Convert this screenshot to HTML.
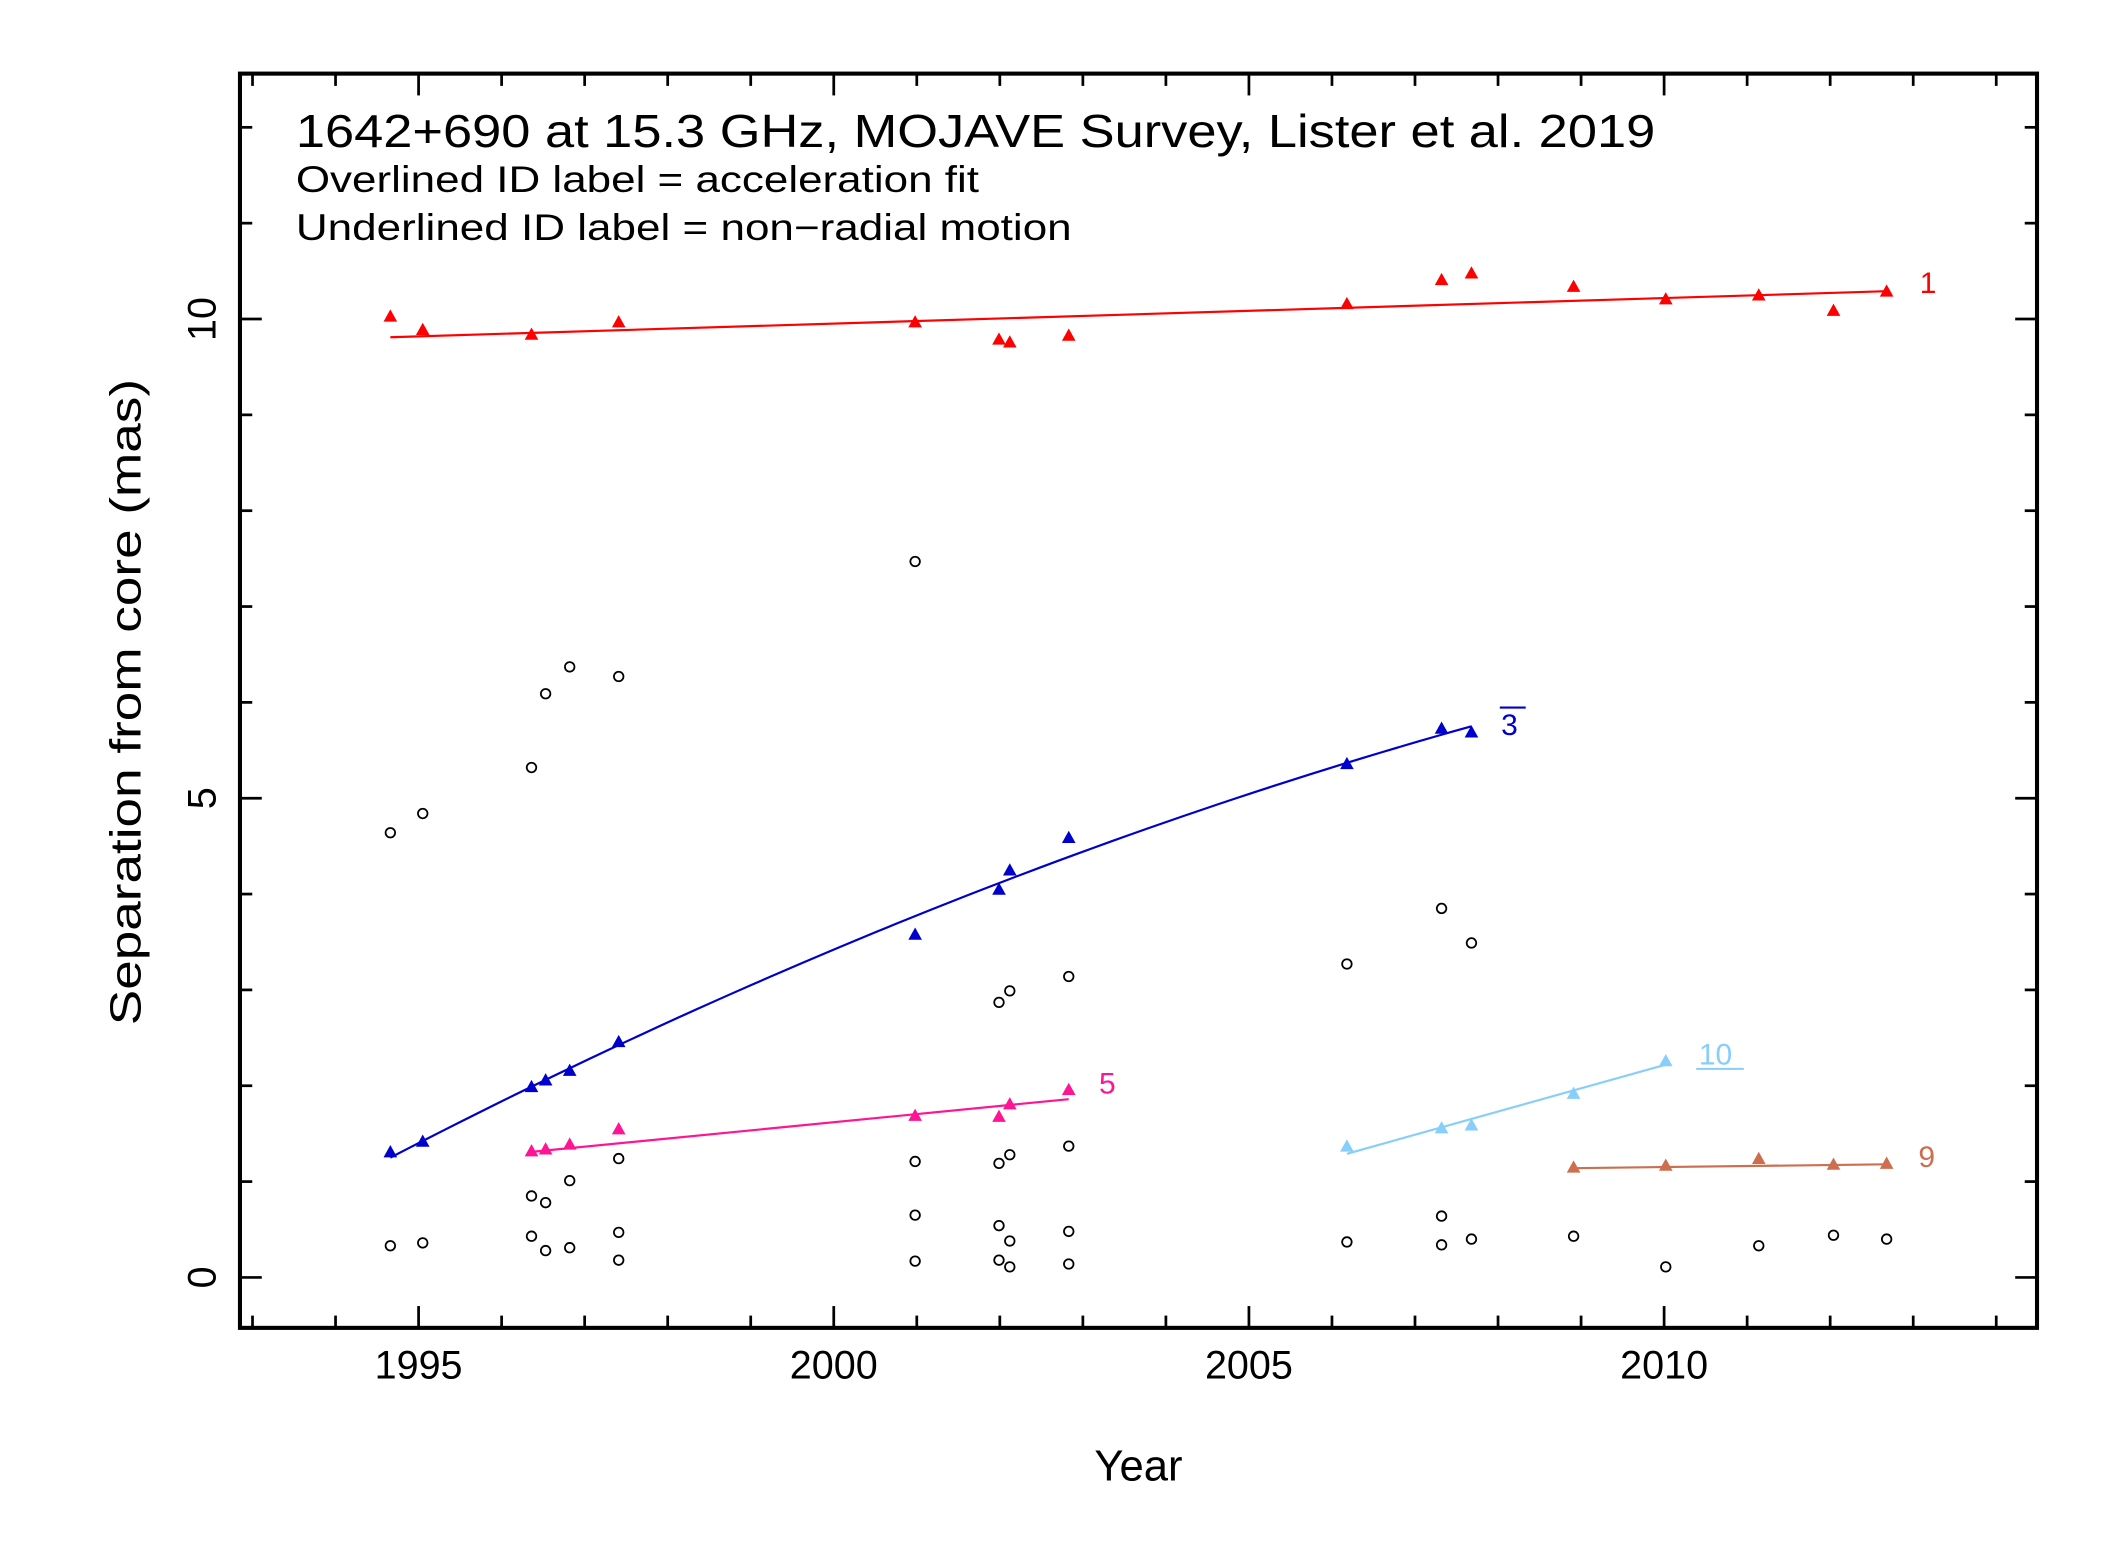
<!DOCTYPE html>
<html><head><meta charset="utf-8">
<style>
html,body{margin:0;padding:0;background:#fff;}
svg{display:block;}
text{font-family:"Liberation Sans","DejaVu Sans",sans-serif;}
</style></head>
<body>
<svg id="chart" xmlns="http://www.w3.org/2000/svg" width="2127" height="1546" viewBox="0 0 1560 1134" preserveAspectRatio="none">
<rect x="0" y="0" width="1560" height="1134" fill="#fff"/>
<g id="ticks"></g>
<g id="marks"></g>
<rect x="176" y="54" width="1318" height="920" fill="none" stroke="#000" stroke-width="3"/>
<text x="217" y="108" font-size="34" textLength="997" lengthAdjust="spacingAndGlyphs">1642+690 at 15.3 GHz, MOJAVE Survey, Lister et al. 2019</text>
<text x="217" y="141" font-size="27" textLength="501" lengthAdjust="spacingAndGlyphs">Overlined ID label = acceleration fit</text>
<text x="217" y="176" font-size="27" textLength="569" lengthAdjust="spacingAndGlyphs">Underlined ID label = non−radial motion</text>
<text x="835" y="1086" font-size="32" text-anchor="middle">Year</text>
<text transform="translate(103,515) rotate(-90)" font-size="32" text-anchor="middle" textLength="474" lengthAdjust="spacingAndGlyphs">Separation from core (mas)</text>
</svg>
<script>
const xTickYears = [1995, 2000, 2005, 2010];
const yTickVals = [0, 5, 10];
const yrs = [1994.66,1995.05,1996.36,1996.53,1996.82,1997.41,2000.98,2001.99,2002.12,2002.83,2006.18,2007.32,2007.68,2008.91,2010.02,2011.14,2012.04,2012.68];
// component 1
const c1Years = [1994.66,1995.05,1996.36,1997.41,2000.98,2001.99,2002.12,2002.83,2006.18,2007.32,2007.68,2008.91,2010.02,2011.14,2012.04,2012.68];
const c1Vals = [10.03,9.89,9.84,9.97,9.97,9.79,9.76,9.83,10.16,10.41,10.48,10.34,10.21,10.25,10.09,10.29];
const c1Fit = [9.81, 10.29];
// component 3 (acceleration)
const c3Years = [1994.66,1995.05,1996.36,1996.53,1996.82,1997.41,2000.98,2001.99,2002.12,2002.83,2006.18,2007.32,2007.68];
const c3Vals = [1.31,1.42,1.99,2.06,2.16,2.46,3.58,4.05,4.25,4.59,5.36,5.73,5.69];
const c3Coef = [1.25, 0.4488, -0.00792];
// component 5
const c5Years = [1996.36,1996.53,1996.82,1997.41,2000.98,2001.99,2002.12,2002.83];
const c5Vals = [1.32,1.34,1.39,1.55,1.69,1.68,1.81,1.96];
const c5Fit = [1.31, 1.86];
// component 10
const c10Years = [2006.18,2007.32,2007.68,2008.91,2010.02];
const c10Vals = [1.37,1.56,1.59,1.92,2.26];
const c10Fit = [1.29, 2.22];
// component 9
const c9Years = [2008.91,2010.02,2011.14,2012.04,2012.68];
const c9Vals = [1.15,1.17,1.24,1.18,1.19];
const c9Fit = [1.14, 1.18];
// unidentified components
const oYears = [1994.66,1995.05,1994.66,1995.05,1996.36,1996.53,1996.82,1997.41,1996.36,1996.53,1996.82,1997.41,1997.41,1996.36,1996.53,1996.82,1997.41,2000.98,2000.98,2000.98,2000.98,2001.99,2002.12,2001.99,2002.12,2001.99,2002.12,2001.99,2002.12,2002.83,2002.83,2002.83,2002.83,2006.18,2006.18,2007.32,2007.32,2007.32,2007.68,2007.68,2008.91,2010.02,2011.14,2012.04,2012.68];
const oVals = [0.33,0.36,4.64,4.84,5.32,6.09,6.37,6.27,0.43,0.28,0.31,0.47,0.18,0.85,0.78,1.01,1.24,7.47,1.21,0.65,0.17,1.19,1.28,0.54,0.38,0.18,0.11,2.87,2.99,3.14,1.37,0.48,0.14,3.27,0.37,3.85,0.64,0.34,3.49,0.40,0.43,0.11,0.33,0.44,0.40];

const NS = "http://www.w3.org/2000/svg";
function X(y){ return 307 + (y - 1995) * 60.9; }
function Y(v){ return 937 - v * 70.3; }
function mk(tag, attrs, parent){ const e = document.createElementNS(NS, tag); for (const k in attrs) e.setAttribute(k, attrs[k]); parent.appendChild(e); return e; }
const tg = document.getElementById('ticks');
const mg = document.getElementById('marks');

for (let yr = 1993; yr <= 2014; yr++) {
  const major = yr % 5 === 0; const L = major ? 16 : 9; const x = X(yr);
  const t1 = mk('line', {x1:x, y1:974, x2:x, y2:974-L, stroke:'#000','stroke-width':2}, tg);
  
  
  const t2 = mk('line', {x1:x, y1:54, x2:x, y2:54+L, stroke:'#000','stroke-width':2}, tg);
  
  
}
xTickYears.forEach(yr => {
  const t = mk('text', {x:X(yr), y:1011, 'font-size':29, 'text-anchor':'middle'}, tg);
  t.textContent = yr;
  
  
});
for (let v = -0; v <= 12; v++) {
  const major = v % 5 === 0; const L = major ? 16 : 9; const y = Y(v);
  const t1 = mk('line', {x1:176, y1:y, x2:176+L, y2:y, stroke:'#000','stroke-width':2}, tg);
  
  
  const t2 = mk('line', {x1:1494, y1:y, x2:1494-L, y2:y, stroke:'#000','stroke-width':2}, tg);
  
  
}
yTickVals.forEach(v => {
  const t = mk('text', {transform:`translate(158,${Y(v)}) rotate(-90)`, 'font-size':29, 'text-anchor':'middle'}, tg);
  t.textContent = v;
  
  
});

function tri(x, y, color){
  return mk('polygon', {points:`${x-5},${y+4} ${x+5},${y+4} ${x},${y-5}`, fill:color}, mg);
}
function series(name, years, vals, color){
  years.forEach((yr, i) => {
    const p = tri(X(yr), Y(vals[i]), color);
    
    
  });
}
function linFit(name, years, fit, color){
  const l = mk('line', {x1:X(years[0]), y1:Y(fit[0]), x2:X(years[years.length-1]), y2:Y(fit[1]), stroke:color, 'stroke-width':1.6}, mg);
  
  
}
function label(name, txt, x, y, color, deco){
  const t = mk('text', {x:x, y:y, 'font-size':22, fill:color}, mg);
  t.textContent = txt;
  
  
  if (deco) t.setAttribute('text-decoration', deco);
}

// circles
oYears.forEach((yr, i) => {
  const c = mk('circle', {cx:X(yr), cy:Y(oVals[i]), r:3.5, fill:'none', stroke:'#000', 'stroke-width':1.3}, mg);
  
  
});

const RED = '#ff0000', BLUE = '#0000cc', PINK = '#ff1493', LB = '#87cefa', OR = '#cd6e4f';
linFit('component-1', c1Years, c1Fit, RED); series('component-1', c1Years, c1Vals, RED);
// curve for 3
{
  const t0 = c3Years[0], t1 = c3Years[c3Years.length-1]; let d = '';
  for (let k = 0; k <= 60; k++) {
    const yr = t0 + (t1 - t0) * k / 60; const t = yr - t0;
    const v = c3Coef[0] + c3Coef[1] * t + c3Coef[2] * t * t;
    d += (k ? 'L' : 'M') + X(yr).toFixed(2) + ',' + Y(v).toFixed(2);
  }
  const p = mk('path', {d:d, fill:'none', stroke:BLUE, 'stroke-width':1.6}, mg);
  
  
}
series('component-3', c3Years, c3Vals, BLUE);
linFit('component-5', c5Years, c5Fit, PINK); series('component-5', c5Years, c5Vals, PINK);
linFit('component-10', c10Years, c10Fit, LB); series('component-10', c10Years, c10Vals, LB);
linFit('component-9', c9Years, c9Fit, OR); series('component-9', c9Years, c9Vals, OR);

label('component-1', '1', 1408, 215, RED);
label('component-3', '3', 1101, 539, BLUE);
const ol = mk('line', {x1:1100, y1:519, x2:1119, y2:519, stroke:BLUE, 'stroke-width':1.5}, mg);


label('component-5', '5', 806, 802, PINK);
label('component-10', '10', 1246, 781, LB);
const ul = mk('line', {x1:1244, y1:784, x2:1279, y2:784, stroke:LB, 'stroke-width':1.5}, mg);


label('component-9', '9', 1407, 856, OR);
</script>
</body></html>
